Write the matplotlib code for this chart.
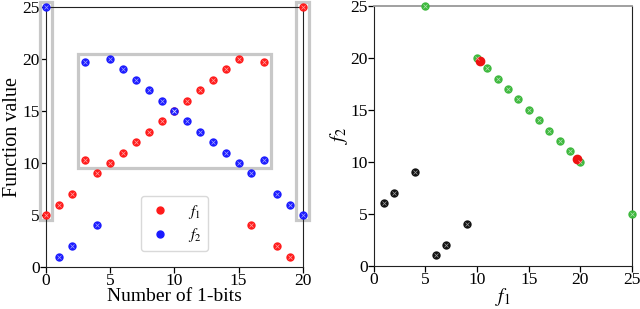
import matplotlib.pyplot as plt
from matplotlib.patches import Rectangle

plt.rcParams['font.family'] = ['Liberation Serif', 'DejaVu Serif']
plt.rcParams['mathtext.fontset'] = 'stix'

# data: number of 1-bits and the two objectives
bits = list(range(21))
f1 = [5, 6, 7, 10.3, 9, 10, 11, 12, 13, 14, 15, 16, 17, 18, 19, 20, 4, 19.7, 2, 1, 25]
f2 = [25, 1, 2, 19.7, 4, 20, 19, 18, 17, 16, 15, 14, 13, 12, 11, 10, 9, 10.3, 7, 6, 5]
# k = dominated, g = pareto optimal, r = in between
status = ['g', 'k', 'k', 'r', 'k', 'g', 'g', 'g', 'g', 'g', 'g', 'g', 'g', 'g', 'g', 'g',
          'k', 'r', 'k', 'k', 'g']

ticks = [0, 5, 10, 15, 20, 25]


def dots(ax, x, y, c, label=None, inner=True, ms=5):
    ax.plot(x, y, 'o', color=c, ms=ms, mec=c, label=label, clip_on=False, zorder=5)
    if inner:
        ax.plot(x, y, 'x', color='white', ms=2.2, mew=0.5, alpha=0.6, clip_on=False, zorder=6)


fig = plt.figure(figsize=(6.4, 3.09), dpi=100)
ax1 = fig.add_axes([0.072, 0.136, 0.401, 0.841])
ax2 = fig.add_axes([0.584, 0.140, 0.4035, 0.841])

# left plot: function values vs number of 1-bits
dots(ax1, bits, f1, '#ff1a1a', '$f_1$')
dots(ax1, bits, f2, '#1a1aff', '$f_2$')
boxes = [(2.5, 9.5, 15, 11), (-0.5, 4.5, 1, 21), (19.5, 4.5, 1, 21)]
for bx, by, bw, bh in boxes:
    ax1.add_patch(Rectangle((bx, by), bw, bh, fill=False, ec='#c8c8c8', lw=2.3,
                            clip_on=False, zorder=3))
ax1.set_xlim(0, 20)
ax1.set_ylim(0, 25)
ax1.set_xticks(ticks[:5])
ax1.set_yticks(ticks)
ax1.set_xlabel('Number of 1-bits', fontsize=14, labelpad=-1)
ax1.set_ylabel('Function value', fontsize=14.5, labelpad=0)
leg = ax1.legend(loc='lower center', bbox_to_anchor=(0.5, 0.05), fontsize=11,
                 handlelength=1.6, handletextpad=1.0, borderpad=0.45, labelspacing=0.35,
                 edgecolor='#d0d0d0', fancybox=True, borderaxespad=0.2)
leg.set_zorder(10)
for s in ax1.spines.values():
    s.set_color('#222222')
    s.set_zorder(4)

# right plot: objective space
cols = {'k': '#111111', 'g': '#3cb83c', 'r': '#ee1111'}
for key in ['k', 'g', 'r']:
    xs = [a for a, s in zip(f1, status) if s == key]
    ys = [b for b, s in zip(f2, status) if s == key]
    dots(ax2, xs, ys, cols[key], inner=(key != 'r'), ms=5 if key != 'r' else 6)
ax2.set_xlim(0, 25)
ax2.set_ylim(0, 25)
ax2.set_xticks(ticks)
ax2.set_yticks(ticks)
ax2.set_xlabel('$f_1$', fontsize=14, labelpad=-1.5)
ax2.set_ylabel('$f_2$', fontsize=14.5, labelpad=0)
for s in ax2.spines.values():
    s.set_color('#222222')
ax2.spines['top'].set_color('#999999')
ax2.spines['top'].set_linewidth(1.3)

for ax in (ax1, ax2):
    ax.tick_params(labelsize=12.5, length=4, width=0.9, pad=0.5, direction='out')

fig.savefig('out.png', dpi=100)
